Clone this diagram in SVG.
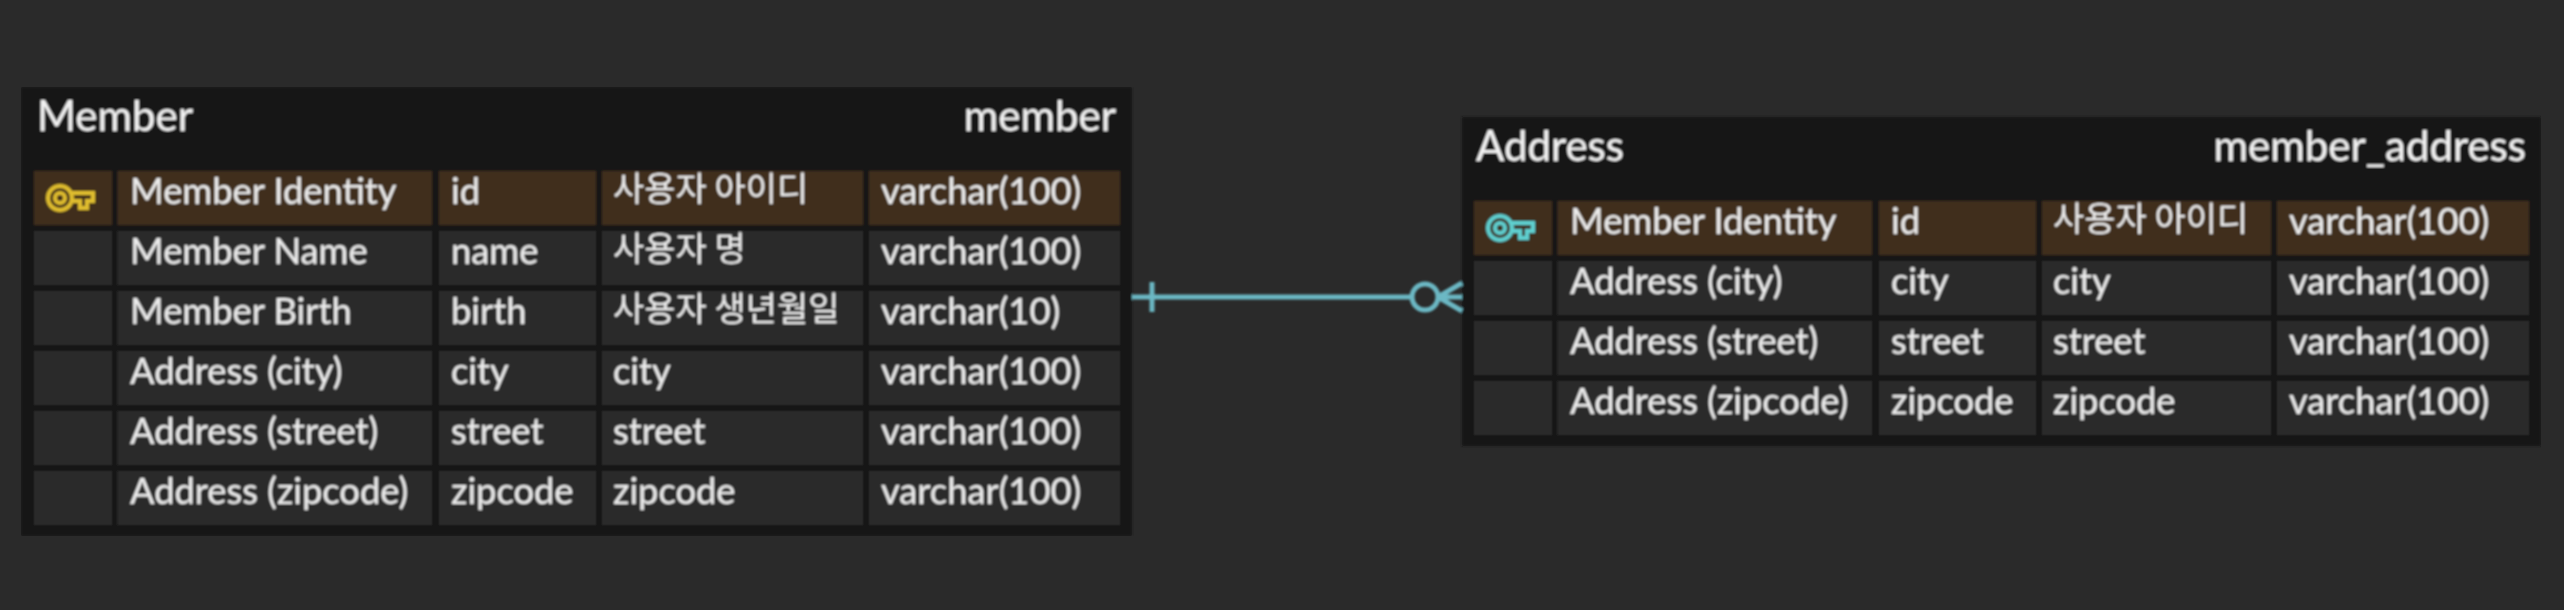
<svg xmlns="http://www.w3.org/2000/svg" width="2564" height="610" viewBox="0 0 2564 610">
<style>
text{font-family:Lato,"Noto Sans CJK KR",sans-serif;fill:#ececec;stroke:#ececec;stroke-width:.12px}
.h{font-size:42px;fill:#f2f2f2}
.c{font-size:36.300px}
.ko{font-size:34px;font-family:"Noto Sans CJK KR",sans-serif;stroke-width:0}
.t{fill:#191919}
.r{fill:#2b2b2b}
.p{fill:#3f2d1c}
.k{fill:none;stroke-width:4}
.l{fill:none;stroke:#6cb8c4;stroke-width:5}
</style>
<defs>
<g id="key"><circle cx="14" cy="14" r="12" class="k"/><circle cx="14" cy="14" r="5" class="k"/><path class="k" d="M25 9H47V17H41V24H34V17H25"/></g>
<filter id="soft" x="0" y="0" width="100%" height="100%"><feGaussianBlur stdDeviation="0.8"/></filter>
</defs>
<rect width="2564" height="610" fill="#2a2a2a"/>
<g filter="url(#soft)">
<g id="node-member">
<rect class="t" x="21" y="87" width="1111" height="449"/>
<text class="h" x="37" y="131">Member</text>
<text class="h" x="1116" y="131" text-anchor="end">member</text>
<rect class="p" x="34" y="171" width="78" height="54"/><rect class="p" x="117.500" y="171" width="314.500" height="54"/><rect class="p" x="439" y="171" width="157" height="54"/><rect class="p" x="602" y="171" width="261" height="54"/><rect class="p" x="869" y="171" width="251" height="54"/>
<use href="#key" x="46" y="184" stroke="#e0bd2e"/>
<text class="c" x="130" y="204">Member Identity</text><text class="c" x="451" y="204">id</text><text class="c ko" x="613" y="201">사용자 아이디</text><text class="c" x="881" y="204">varchar(100)</text>
<rect class="r" x="34" y="231" width="78" height="54"/><rect class="r" x="117.500" y="231" width="314.500" height="54"/><rect class="r" x="439" y="231" width="157" height="54"/><rect class="r" x="602" y="231" width="261" height="54"/><rect class="r" x="869" y="231" width="251" height="54"/>
<text class="c" x="130" y="264">Member Name</text><text class="c" x="451" y="264">name</text><text class="c ko" x="613" y="261">사용자 명</text><text class="c" x="881" y="264">varchar(100)</text>
<rect class="r" x="34" y="291" width="78" height="54"/><rect class="r" x="117.500" y="291" width="314.500" height="54"/><rect class="r" x="439" y="291" width="157" height="54"/><rect class="r" x="602" y="291" width="261" height="54"/><rect class="r" x="869" y="291" width="251" height="54"/>
<text class="c" x="130" y="324">Member Birth</text><text class="c" x="451" y="324">birth</text><text class="c ko" x="613" y="321">사용자 생년월일</text><text class="c" x="881" y="324">varchar(10)</text>
<rect class="r" x="34" y="351" width="78" height="54"/><rect class="r" x="117.500" y="351" width="314.500" height="54"/><rect class="r" x="439" y="351" width="157" height="54"/><rect class="r" x="602" y="351" width="261" height="54"/><rect class="r" x="869" y="351" width="251" height="54"/>
<text class="c" x="130" y="384">Address (city)</text><text class="c" x="451" y="384">city</text><text class="c" x="613" y="384">city</text><text class="c" x="881" y="384">varchar(100)</text>
<rect class="r" x="34" y="411" width="78" height="54"/><rect class="r" x="117.500" y="411" width="314.500" height="54"/><rect class="r" x="439" y="411" width="157" height="54"/><rect class="r" x="602" y="411" width="261" height="54"/><rect class="r" x="869" y="411" width="251" height="54"/>
<text class="c" x="130" y="444">Address (street)</text><text class="c" x="451" y="444">street</text><text class="c" x="613" y="444">street</text><text class="c" x="881" y="444">varchar(100)</text>
<rect class="r" x="34" y="471" width="78" height="54"/><rect class="r" x="117.500" y="471" width="314.500" height="54"/><rect class="r" x="439" y="471" width="157" height="54"/><rect class="r" x="602" y="471" width="261" height="54"/><rect class="r" x="869" y="471" width="251" height="54"/>
<text class="c" x="130" y="504">Address (zipcode)</text><text class="c" x="451" y="504">zipcode</text><text class="c" x="613" y="504">zipcode</text><text class="c" x="881" y="504">varchar(100)</text>
</g>
<g id="node-address">
<rect class="t" x="1462" y="117" width="1079" height="329"/>
<text class="h" x="1476" y="161">Address</text>
<text class="h" x="2526" y="161" text-anchor="end">member_address</text>
<rect class="p" x="1474" y="201" width="78" height="54"/><rect class="p" x="1557.500" y="201" width="314.500" height="54"/><rect class="p" x="1879" y="201" width="157" height="54"/><rect class="p" x="2042" y="201" width="229" height="54"/><rect class="p" x="2277" y="201" width="252" height="54"/>
<use href="#key" x="1486" y="214" stroke="#5fd0d0"/>
<text class="c" x="1570" y="234">Member Identity</text><text class="c" x="1891" y="234">id</text><text class="c ko" x="2053" y="231">사용자 아이디</text><text class="c" x="2289" y="234">varchar(100)</text>
<rect class="r" x="1474" y="261" width="78" height="54"/><rect class="r" x="1557.500" y="261" width="314.500" height="54"/><rect class="r" x="1879" y="261" width="157" height="54"/><rect class="r" x="2042" y="261" width="229" height="54"/><rect class="r" x="2277" y="261" width="252" height="54"/>
<text class="c" x="1570" y="294">Address (city)</text><text class="c" x="1891" y="294">city</text><text class="c" x="2053" y="294">city</text><text class="c" x="2289" y="294">varchar(100)</text>
<rect class="r" x="1474" y="321" width="78" height="54"/><rect class="r" x="1557.500" y="321" width="314.500" height="54"/><rect class="r" x="1879" y="321" width="157" height="54"/><rect class="r" x="2042" y="321" width="229" height="54"/><rect class="r" x="2277" y="321" width="252" height="54"/>
<text class="c" x="1570" y="354">Address (street)</text><text class="c" x="1891" y="354">street</text><text class="c" x="2053" y="354">street</text><text class="c" x="2289" y="354">varchar(100)</text>
<rect class="r" x="1474" y="381" width="78" height="54"/><rect class="r" x="1557.500" y="381" width="314.500" height="54"/><rect class="r" x="1879" y="381" width="157" height="54"/><rect class="r" x="2042" y="381" width="229" height="54"/><rect class="r" x="2277" y="381" width="252" height="54"/>
<text class="c" x="1570" y="414">Address (zipcode)</text><text class="c" x="1891" y="414">zipcode</text><text class="c" x="2053" y="414">zipcode</text><text class="c" x="2289" y="414">varchar(100)</text>
</g>
<g id="connectors">
<path class="l" d="M1132 297H1412M1152 282V312"/>
<circle class="l" cx="1425" cy="297" r="13"/>
<path class="l" d="M1438 297L1462 283M1438 297H1462M1438 297L1462 311"/>
</g>
</g>
</svg>
